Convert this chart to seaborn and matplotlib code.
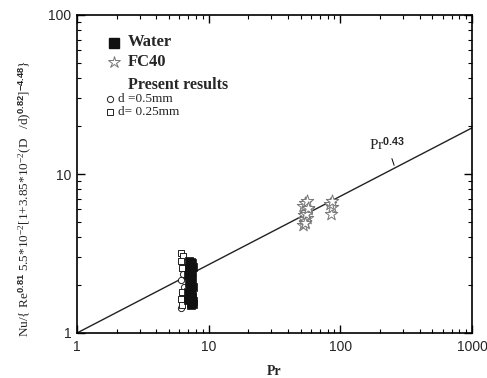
import matplotlib
matplotlib.use("Agg")
import matplotlib.pyplot as plt
import seaborn as sns
import pandas as pd
from matplotlib.ticker import LogLocator, NullFormatter, FixedLocator, FixedFormatter

# ---- data ----
water_pr = [7.1, 7.3, 7.5, 7.2, 7.4, 7.6, 7.1, 7.3, 7.5, 7.2, 7.4, 7.0, 7.3, 7.5,
            7.2, 7.4, 7.1, 7.3, 7.6, 7.2, 7.4, 7.0, 7.3, 7.5, 7.2, 7.6, 7.4, 7.3,
            7.0, 7.5, 7.2, 7.6]
water_nu = [2.85, 2.8, 2.75, 2.7, 2.65, 2.6, 2.55, 2.5, 2.45, 2.4, 2.35, 2.3, 2.25, 2.2,
            2.15, 2.1, 2.05, 2.0, 1.95, 1.9, 1.85, 1.8, 1.75, 1.7, 1.65, 1.6, 1.55, 1.5,
            1.62, 1.68, 1.72, 1.52]

fc40_pr = [52, 54, 56, 53, 55, 57, 52, 54, 56, 53, 55, 57, 54, 85, 86, 84, 87]
fc40_nu = [4.8, 5.0, 5.3, 5.5, 5.8, 6.0, 6.3, 6.6, 6.8, 5.2, 5.6, 6.1, 4.9, 5.6, 6.2, 6.5, 6.8]

d05_pr = [6.4, 6.2, 6.5, 6.3, 6.6, 6.2, 6.4]
d05_nu = [2.6, 2.15, 1.95, 1.8, 1.62, 1.44, 2.35]

d025_pr = [6.2, 6.4, 6.2, 6.3, 6.3, 6.2, 6.3]
d025_nu = [3.2, 3.05, 2.85, 2.55, 1.8, 1.63, 1.5]

line_pr = [1, 1000]
line_nu = [1, 19.5]

x_ticks = [1, 10, 100, 1000]
x_labels = ["1", "10", "100", "1000"]
y_ticks = [1, 10, 100]
y_labels = ["1", "10", "100"]

sns.set_style("ticks")
plt.rcParams['font.family'] = ['Liberation Serif', 'DejaVu Serif']
plt.rcParams['mathtext.fontset'] = 'custom'
plt.rcParams['mathtext.rm'] = 'Liberation Serif'
plt.rcParams['mathtext.it'] = 'Liberation Serif:italic'
plt.rcParams['mathtext.bf'] = 'Liberation Sans:bold'

W, H = 487, 378
fig = plt.figure(figsize=(W / 100, H / 100), dpi=100)
ax = fig.add_axes([77 / W, 1 - 333 / H, 395 / W, 318 / H])

df_line = pd.DataFrame({"Pr": line_pr, "Nu": line_nu})
sns.lineplot(data=df_line, x="Pr", y="Nu", ax=ax, color="#222222", lw=1.0)

df_w = pd.DataFrame({"Pr": water_pr, "Nu": water_nu})
sns.scatterplot(data=df_w, x="Pr", y="Nu", ax=ax, marker="s", s=36,
                color="#111111", edgecolor="#111111", linewidth=0.5, zorder=3)

df_f = pd.DataFrame({"Pr": fc40_pr, "Nu": fc40_nu})
sns.scatterplot(data=df_f, x="Pr", y="Nu", ax=ax, marker="*", s=90,
                facecolor="white", edgecolor="#777777", linewidth=0.7, zorder=3)

df_c = pd.DataFrame({"Pr": d05_pr, "Nu": d05_nu})
sns.scatterplot(data=df_c, x="Pr", y="Nu", ax=ax, marker="o", s=20,
                facecolor="white", edgecolor="#222222", linewidth=0.7, zorder=2)

df_s = pd.DataFrame({"Pr": d025_pr, "Nu": d025_nu})
sns.scatterplot(data=df_s, x="Pr", y="Nu", ax=ax, marker="s", s=20,
                facecolor="white", edgecolor="#222222", linewidth=0.7, zorder=2)

ax.set_xscale("log")
ax.set_yscale("log")
ax.set_xlim(1, 1000)
ax.set_ylim(1, 100)

for sp in ax.spines.values():
    sp.set_visible(True)
    sp.set_linewidth(1.2)
    sp.set_color("black")

ax.xaxis.set_major_locator(FixedLocator(x_ticks))
ax.xaxis.set_major_formatter(FixedFormatter(x_labels))
ax.yaxis.set_major_locator(FixedLocator(y_ticks))
ax.yaxis.set_major_formatter(FixedFormatter(y_labels))
ax.xaxis.set_minor_locator(LogLocator(base=10, subs=range(2, 10)))
ax.yaxis.set_minor_locator(LogLocator(base=10, subs=range(2, 10)))
ax.xaxis.set_minor_formatter(NullFormatter())
ax.yaxis.set_minor_formatter(NullFormatter())
ax.tick_params(which="both", direction="in", top=True, right=True, color="black")
ax.tick_params(which="major", length=6, width=1.0)
ax.tick_params(which="minor", length=3, width=0.8)
for lab in ax.get_xticklabels() + ax.get_yticklabels():
    lab.set_fontfamily("Liberation Sans")
    lab.set_fontsize(10)
ax.tick_params(axis="x", pad=5)
ax.tick_params(axis="y", pad=4)

ax.set_xlabel("Pr", fontsize=10, fontweight="bold", labelpad=8)
ax.set_ylabel("")
ax.grid(False)

fig.text(25 / W, 1 - 198 / H,
         r"Nu/{ Re$^{\mathbf{0.81}}$ 5.5*10$^{-2}$[1+3.85*10$^{-2}$(D   /d)$^{\mathbf{0.82}}$]$^{\mathbf{-4.48}}$}",
         rotation=90, ha="center", va="center", fontsize=9.5)

# annotation of the correlation line
ax.annotate(r"Pr$^{\mathbf{0.43}}$", xy=(260, 260 ** 0.43), xytext=(165, 15.5),
            fontsize=11, ha="left", va="center",
            arrowprops=dict(arrowstyle="-", color="black", lw=0.7))

# legend drawn manually
def fx(px):
    return px / W

def fy(py):
    return 1 - py / H

ax.plot([fx(114)], [fy(43)], marker="s", ms=7, color="#111111", transform=fig.transFigure, clip_on=False)
fig.text(fx(128), fy(42), "Water", fontsize=12, fontweight="bold", va="center")
ax.plot([fx(114)], [fy(62)], marker="*", ms=9, mfc="white", mec="#777777", mew=0.7,
        transform=fig.transFigure, clip_on=False)
fig.text(fx(128), fy(62), "FC40", fontsize=12, fontweight="bold", va="center")
fig.text(fx(128), fy(85), "Present results", fontsize=11.5, fontweight="bold", va="center")
ax.plot([fx(110)], [fy(99)], marker="o", ms=4.5, mfc="white", mec="#222222", mew=0.7,
        transform=fig.transFigure, clip_on=False)
fig.text(fx(118), fy(99), "d =0.5mm", fontsize=9.5, va="center")
ax.plot([fx(110)], [fy(112)], marker="s", ms=4.5, mfc="white", mec="#222222", mew=0.7,
        transform=fig.transFigure, clip_on=False)
fig.text(fx(118), fy(112), "d= 0.25mm", fontsize=9.5, va="center")

fig.savefig("out.png", dpi=100)
